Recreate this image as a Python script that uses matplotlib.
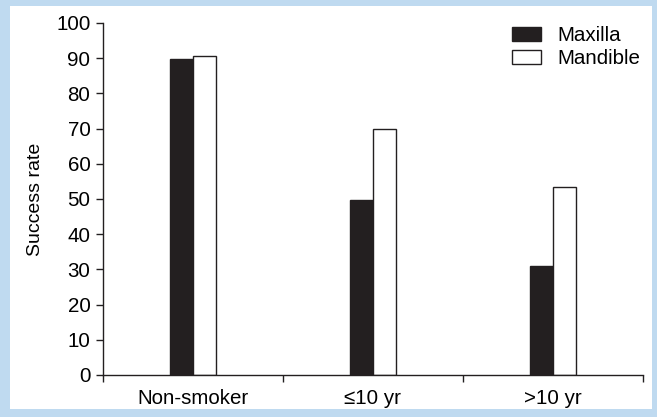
import matplotlib
matplotlib.use("Agg")
import matplotlib.pyplot as plt
from matplotlib.patches import Rectangle
import numpy as np

categories = ["Non-smoker", "\u226410 yr", ">10 yr"]
maxilla = [89.7, 49.7, 31.0]
mandible = [90.6, 69.8, 53.3]
yticks = list(range(0, 101, 10))

plt.rcParams['font.family'] = ['Liberation Sans', 'DejaVu Sans']
FS = 14.8

fig = plt.figure(figsize=(6.57, 4.17), dpi=100)
fig.patch.set_facecolor('#bfdaf0')
fig.patches.append(Rectangle((10/657, 8/417), (652-10)/657, (411-8)/417,
                             transform=fig.transFigure, facecolor='white',
                             edgecolor='none', zorder=-5))
ax = fig.add_axes([103/657, 42/417, 540/657, 352/417])
ax.set_facecolor('none')
ax.set_zorder(1)

x = np.arange(len(categories)) + 0.5
w = 0.128
ec = '#231f20'
ax.bar(x - w/2, maxilla, w, color='#231f20', edgecolor=ec, linewidth=1, label='Maxilla')
ax.bar(x + w/2, mandible, w, color='white', edgecolor=ec, linewidth=1, label='Mandible')

ax.set_xlim(0, 3)
ax.set_ylim(0, 100)
ax.set_yticks(yticks)
ax.set_xticks([0, 1, 2, 3])
ax.set_xticklabels([])
ax.set_xticks(x, minor=True)
ax.set_xticklabels(categories, minor=True, fontsize=FS)
ax.tick_params(axis='x', which='minor', length=0, pad=10)
ax.tick_params(axis='x', which='major', length=5, width=1, color=ec)
ax.tick_params(axis='y', length=5, width=1, color=ec, labelsize=FS, pad=4)
for s in ['top', 'right']:
    ax.spines[s].set_visible(False)
for s in ['left', 'bottom']:
    ax.spines[s].set_color(ec)
    ax.spines[s].set_linewidth(1)
ax.set_ylabel('Success rate', fontsize=14, labelpad=9)

handles, labels = ax.get_legend_handles_labels()
fig.legend(handles, labels, loc='upper left', bbox_to_anchor=(512/657, 1 - 26/417),
           frameon=False, fontsize=FS, borderpad=0, borderaxespad=0,
           handlelength=1.41, handleheight=0.68, labelspacing=0.2, handletextpad=0.8)

fig.savefig('out.png', dpi=100)
